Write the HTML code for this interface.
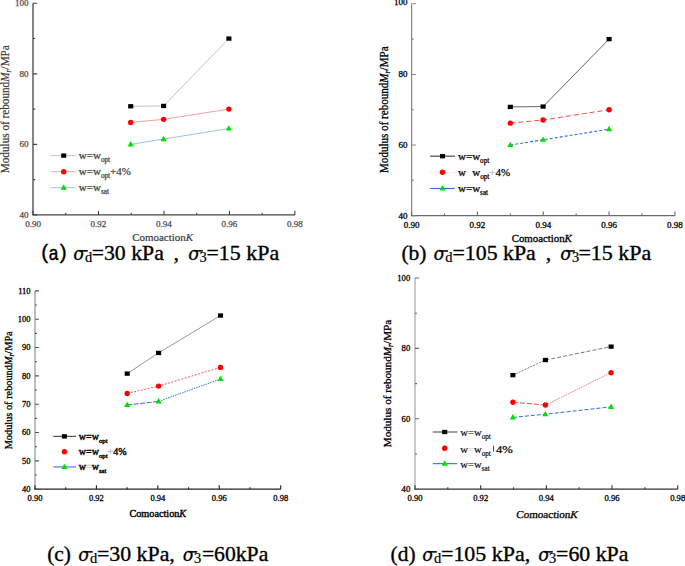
<!DOCTYPE html><html><head><meta charset="utf-8"><style>html,body{margin:0;padding:0;background:#fff;}svg{display:block}</style></head><body>
<svg width="685" height="566" viewBox="0 0 685 566">
<rect width="685" height="566" fill="#fff"/>
<path d="M33 3.3V214.9" fill="none" stroke="#444" stroke-width="1.3"/>
<path d="M32.35 214.9H294.9" fill="none" stroke="#444" stroke-width="1.3"/>
<path d="M33 214.9h4.2M33 179.63h2.2M33 144.37h4.2M33 109.1h2.2M33 73.83h4.2M33 38.57h2.2M33 3.3h4.2" fill="none" stroke="#444" stroke-width="1.1"/>
<path d="M33 214.9v-4.2M65.74 214.9v-2.2M98.48 214.9v-4.2M131.21 214.9v-2.2M163.95 214.9v-4.2M196.69 214.9v-2.2M229.42 214.9v-4.2M262.16 214.9v-2.2M294.9 214.9v-4.2" fill="none" stroke="#444" stroke-width="1.1"/>
<text x="28.4" y="217.87" font-family='"Liberation Serif", serif' font-size="9" fill="#4a4a4a" text-anchor="end" stroke="#4a4a4a" stroke-width="0.25">40</text>
<text x="28.4" y="147.34" font-family='"Liberation Serif", serif' font-size="9" fill="#4a4a4a" text-anchor="end" stroke="#4a4a4a" stroke-width="0.25">60</text>
<text x="28.4" y="76.8" font-family='"Liberation Serif", serif' font-size="9" fill="#4a4a4a" text-anchor="end" stroke="#4a4a4a" stroke-width="0.25">80</text>
<text x="28.4" y="6.27" font-family='"Liberation Serif", serif' font-size="9" fill="#4a4a4a" text-anchor="end" stroke="#4a4a4a" stroke-width="0.25">100</text>
<text x="33" y="227.17" font-family='"Liberation Serif", serif' font-size="9" fill="#4a4a4a" text-anchor="middle" stroke="#4a4a4a" stroke-width="0.25">0.90</text>
<text x="98.48" y="227.17" font-family='"Liberation Serif", serif' font-size="9" fill="#4a4a4a" text-anchor="middle" stroke="#4a4a4a" stroke-width="0.25">0.92</text>
<text x="163.95" y="227.17" font-family='"Liberation Serif", serif' font-size="9" fill="#4a4a4a" text-anchor="middle" stroke="#4a4a4a" stroke-width="0.25">0.94</text>
<text x="229.42" y="227.17" font-family='"Liberation Serif", serif' font-size="9" fill="#4a4a4a" text-anchor="middle" stroke="#4a4a4a" stroke-width="0.25">0.96</text>
<text x="294.9" y="227.17" font-family='"Liberation Serif", serif' font-size="9" fill="#4a4a4a" text-anchor="middle" stroke="#4a4a4a" stroke-width="0.25">0.98</text>
<path d="M130.7 106.28L163.6 105.93L228.9 38.57" fill="none" stroke="#c4c4c4" stroke-width="1"/>
<rect x="128.16" y="104.12" width="5.09" height="4.32" fill="#000"/>
<rect x="161.06" y="103.77" width="5.09" height="4.32" fill="#000"/>
<rect x="226.36" y="36.41" width="5.09" height="4.32" fill="#000"/>
<path d="M130.7 122.5L163.6 119.33L228.9 109.1" fill="none" stroke="#f5a0a0" stroke-width="1"/>
<circle cx="130.7" cy="122.5" r="2.7" fill="#ff0000"/>
<circle cx="163.6" cy="119.33" r="2.7" fill="#ff0000"/>
<circle cx="228.9" cy="109.1" r="2.7" fill="#ff0000"/>
<path d="M130.7 144.37L163.6 139.08L228.9 128.5" fill="none" stroke="#a0c0ee" stroke-width="1"/>
<path d="M130.7 141.02L133.8 146.42L127.6 146.42Z" fill="#00e000"/>
<path d="M163.6 135.73L166.7 141.13L160.5 141.13Z" fill="#00e000"/>
<path d="M228.9 125.15L232 130.55L225.8 130.55Z" fill="#00e000"/>
<path d="M50.8 155.6H75.7" stroke="#c4c4c4" stroke-width="1"/>
<rect x="61.16" y="153.44" width="5.09" height="4.32" fill="#000"/>
<path d="M50.8 171.7H75.7" stroke="#f5a0a0" stroke-width="1"/>
<circle cx="63.7" cy="171.7" r="2.7" fill="#ff0000"/>
<path d="M50.8 187.7H75.7" stroke="#a0c0ee" stroke-width="1"/>
<path d="M63.7 184.36L66.8 189.75L60.6 189.75Z" fill="#00e000"/>
<text x="78.8" y="159.2" font-family='"Liberation Serif", serif' font-size="11" fill="#444" font-weight="normal" stroke="#444" stroke-width="0.25"><tspan>w=w</tspan><tspan font-size="7.2" dy="3">opt</tspan></text>
<text x="78.8" y="175.0" font-family='"Liberation Serif", serif' font-size="11" fill="#444" font-weight="normal" stroke="#444" stroke-width="0.25"><tspan>w=w</tspan><tspan font-size="7.2" dy="3">opt</tspan><tspan dy="-3">+4%</tspan></text>
<text x="78.8" y="191.0" font-family='"Liberation Serif", serif' font-size="11" fill="#444" font-weight="normal" stroke="#444" stroke-width="0.25"><tspan>w=w</tspan><tspan font-size="7.2" dy="3">sat</tspan></text>
<path d="M411.6 3.8V215.7" fill="none" stroke="#858585" stroke-width="1.2"/>
<path d="M411 215.7H674.9" fill="none" stroke="#6a6a6a" stroke-width="1.2"/>
<path d="M411.6 215.7h4.2M411.6 180.38h2.2M411.6 145.07h4.2M411.6 109.75h2.2M411.6 74.43h4.2M411.6 39.12h2.2M411.6 3.8h4.2" fill="none" stroke="#858585" stroke-width="1.1"/>
<path d="M411.6 215.7v-4.2M444.51 215.7v-2.2M477.43 215.7v-4.2M510.34 215.7v-2.2M543.25 215.7v-4.2M576.16 215.7v-2.2M609.07 215.7v-4.2M641.99 215.7v-2.2M674.9 215.7v-4.2" fill="none" stroke="#6a6a6a" stroke-width="1.1"/>
<text x="407.4" y="218.67" font-family='"Liberation Serif", serif' font-size="9" fill="#000" text-anchor="end" stroke="#000" stroke-width="0.3">40</text>
<text x="407.4" y="148.04" font-family='"Liberation Serif", serif' font-size="9" fill="#000" text-anchor="end" stroke="#000" stroke-width="0.3">60</text>
<text x="407.4" y="77.4" font-family='"Liberation Serif", serif' font-size="9" fill="#000" text-anchor="end" stroke="#000" stroke-width="0.3">80</text>
<text x="407.4" y="5.37" font-family='"Liberation Serif", serif' font-size="9" fill="#000" text-anchor="end" stroke="#000" stroke-width="0.3">100</text>
<text x="411.6" y="228.07" font-family='"Liberation Serif", serif' font-size="9" fill="#000" text-anchor="middle" stroke="#000" stroke-width="0.3">0.90</text>
<text x="477.43" y="228.07" font-family='"Liberation Serif", serif' font-size="9" fill="#000" text-anchor="middle" stroke="#000" stroke-width="0.3">0.92</text>
<text x="543.25" y="228.07" font-family='"Liberation Serif", serif' font-size="9" fill="#000" text-anchor="middle" stroke="#000" stroke-width="0.3">0.94</text>
<text x="609.07" y="228.07" font-family='"Liberation Serif", serif' font-size="9" fill="#000" text-anchor="middle" stroke="#000" stroke-width="0.3">0.96</text>
<text x="674.9" y="228.07" font-family='"Liberation Serif", serif' font-size="9" fill="#000" text-anchor="middle" stroke="#000" stroke-width="0.3">0.98</text>
<path d="M510.3 106.92L543.1 106.57L609.1 39.12" fill="none" stroke="#404040" stroke-width="0.8"/>
<rect x="507.76" y="104.76" width="5.09" height="4.32" fill="#000"/>
<rect x="540.56" y="104.41" width="5.09" height="4.32" fill="#000"/>
<rect x="606.56" y="36.96" width="5.09" height="4.32" fill="#000"/>
<path d="M510.3 123.17L543.1 119.99L609.1 109.75" fill="none" stroke="#ff3030" stroke-width="0.9" stroke-dasharray="5 3"/>
<circle cx="510.3" cy="123.17" r="2.7" fill="#ff0000"/>
<circle cx="543.1" cy="119.99" r="2.7" fill="#ff0000"/>
<circle cx="609.1" cy="109.75" r="2.7" fill="#ff0000"/>
<path d="M510.3 145.07L543.1 139.77L609.1 129.17" fill="none" stroke="#3070e0" stroke-width="1.1" stroke-dasharray="3 2"/>
<path d="M510.3 141.72L513.4 147.12L507.2 147.12Z" fill="#00e000"/>
<path d="M543.1 136.42L546.2 141.82L540 141.82Z" fill="#00e000"/>
<path d="M609.1 125.83L612.2 131.22L606 131.22Z" fill="#00e000"/>
<path d="M430.1 156.2H454.9" stroke="#555" stroke-width="1.3"/>
<rect x="439.96" y="154.04" width="5.09" height="4.32" fill="#000"/>
<path d="M430.1 172.3H454.9" stroke="#ffe8e8" stroke-width="1"/>
<circle cx="442.5" cy="172.3" r="2.7" fill="#ff0000"/>
<path d="M430.1 188.4H454.9" stroke="#2060e0" stroke-width="1"/>
<path d="M442.5 185.06L445.6 190.45L439.4 190.45Z" fill="#00e000"/>
<text x="458.0" y="160.3" font-family='"Liberation Serif", serif' font-size="11" fill="#000" font-weight="normal" stroke="#000" stroke-width="0.25"><tspan>w=w</tspan><tspan font-size="7.2" dy="3">opt</tspan></text>
<text x="458.0" y="175.8" font-family='"Liberation Serif", serif' font-size="11" fill="#000" font-weight="normal" stroke="#000" stroke-width="0.25"><tspan>w</tspan><tspan fill="#fff" stroke="#fff">=</tspan><tspan>w</tspan><tspan font-size="7.2" dy="3">opt</tspan><tspan dy="-3" fill="#bbb" stroke="#bbb">+</tspan><tspan>4%</tspan></text>
<text x="458.0" y="191.8" font-family='"Liberation Serif", serif' font-size="11" fill="#000" font-weight="normal" stroke="#000" stroke-width="0.25"><tspan>w=w</tspan><tspan font-size="7.2" dy="3">sat</tspan></text>
<path d="M35 290.9V489.2" fill="none" stroke="#9a9a9a" stroke-width="1.3"/>
<path d="M34.35 489.2H280.7" fill="none" stroke="#222" stroke-width="1.3"/>
<path d="M35 489.2h4M35 475.04h2M35 460.87h4M35 446.71h2M35 432.54h4M35 418.38h2M35 404.21h4M35 390.05h2M35 375.89h4M35 361.72h2M35 347.56h4M35 333.39h2M35 319.23h4M35 305.06h2M35 290.9h4" fill="none" stroke="#555" stroke-width="1.1"/>
<path d="M35 489.2v-4M65.71 489.2v-2M96.43 489.2v-4M127.14 489.2v-2M157.85 489.2v-4M188.56 489.2v-2M219.27 489.2v-4M249.99 489.2v-2M280.7 489.2v-4" fill="none" stroke="#222" stroke-width="1.1"/>
<text x="30.6" y="492" font-family='"Liberation Serif", serif' font-size="8.5" fill="#000" text-anchor="end" stroke="#000" stroke-width="0.3">40</text>
<text x="30.6" y="463.68" font-family='"Liberation Serif", serif' font-size="8.5" fill="#000" text-anchor="end" stroke="#000" stroke-width="0.3">50</text>
<text x="30.6" y="435.35" font-family='"Liberation Serif", serif' font-size="8.5" fill="#000" text-anchor="end" stroke="#000" stroke-width="0.3">60</text>
<text x="30.6" y="407.02" font-family='"Liberation Serif", serif' font-size="8.5" fill="#000" text-anchor="end" stroke="#000" stroke-width="0.3">70</text>
<text x="30.6" y="378.69" font-family='"Liberation Serif", serif' font-size="8.5" fill="#000" text-anchor="end" stroke="#000" stroke-width="0.3">80</text>
<text x="30.6" y="350.36" font-family='"Liberation Serif", serif' font-size="8.5" fill="#000" text-anchor="end" stroke="#000" stroke-width="0.3">90</text>
<text x="30.6" y="322.03" font-family='"Liberation Serif", serif' font-size="8.5" fill="#000" text-anchor="end" stroke="#000" stroke-width="0.3">100</text>
<text x="30.6" y="293.7" font-family='"Liberation Serif", serif' font-size="8.5" fill="#000" text-anchor="end" stroke="#000" stroke-width="0.3">110</text>
<text x="35" y="500.61" font-family='"Liberation Serif", serif' font-size="8.5" fill="#000" text-anchor="middle" stroke="#000" stroke-width="0.3">0.90</text>
<text x="96.43" y="500.61" font-family='"Liberation Serif", serif' font-size="8.5" fill="#000" text-anchor="middle" stroke="#000" stroke-width="0.3">0.92</text>
<text x="157.85" y="500.61" font-family='"Liberation Serif", serif' font-size="8.5" fill="#000" text-anchor="middle" stroke="#000" stroke-width="0.3">0.94</text>
<text x="219.27" y="500.61" font-family='"Liberation Serif", serif' font-size="8.5" fill="#000" text-anchor="middle" stroke="#000" stroke-width="0.3">0.96</text>
<text x="280.7" y="500.61" font-family='"Liberation Serif", serif' font-size="8.5" fill="#000" text-anchor="middle" stroke="#000" stroke-width="0.3">0.98</text>
<path d="M127.2 373.62L158.6 352.94L220.5 315.55" fill="none" stroke="#808080" stroke-width="0.8"/>
<rect x="124.66" y="371.46" width="5.09" height="4.32" fill="#000"/>
<rect x="156.06" y="350.78" width="5.09" height="4.32" fill="#000"/>
<rect x="217.96" y="313.39" width="5.09" height="4.32" fill="#000"/>
<path d="M127.2 393.45L158.6 386.08L220.5 367.39" fill="none" stroke="#ff4040" stroke-width="0.9" stroke-dasharray="2 1.5"/>
<circle cx="127.2" cy="393.45" r="2.7" fill="#ff0000"/>
<circle cx="158.6" cy="386.08" r="2.7" fill="#ff0000"/>
<circle cx="220.5" cy="367.39" r="2.7" fill="#ff0000"/>
<path d="M127.2 405.06L158.6 401.38" fill="none" stroke="#3070e0" stroke-width="1.0" stroke-dasharray="5 1.5"/>
<path d="M158.6 401.38L220.5 379" fill="none" stroke="#3070e0" stroke-width="1.0" stroke-dasharray="1.5 1"/>
<path d="M127.2 401.72L130.3 407.11L124.1 407.11Z" fill="#00e000"/>
<path d="M158.6 398.04L161.7 403.43L155.5 403.43Z" fill="#00e000"/>
<path d="M220.5 375.66L223.6 381.05L217.4 381.05Z" fill="#00e000"/>
<path d="M53.2 436.4H76" stroke="#505050" stroke-width="1.2"/>
<rect x="61.86" y="434.24" width="5.09" height="4.32" fill="#000"/>
<circle cx="64.4" cy="451.7" r="2.7" fill="#ff0000"/>
<path d="M53.2 466.9H76" stroke="#80a6ec" stroke-width="1.7"/>
<path d="M64.4 463.56L67.5 468.95L61.3 468.95Z" fill="#00e000"/>
<text x="78.8" y="439.8" font-family='"Liberation Serif", serif' font-size="10" fill="#000" font-weight="normal" stroke="#000" stroke-width="0.4"><tspan>w=w</tspan><tspan font-size="6.8" dy="3">opt</tspan></text>
<text x="78.8" y="454.6" font-family='"Liberation Serif", serif' font-size="10" fill="#000" font-weight="normal" stroke="#000" stroke-width="0.4"><tspan>w=w</tspan><tspan font-size="6.8" dy="3">opt</tspan><tspan dy="-3" fill="#bbb" stroke="#bbb">+</tspan><tspan>4%</tspan></text>
<text x="78.8" y="469.8" font-family='"Liberation Serif", serif' font-size="10" fill="#000" font-weight="normal" stroke="#000" stroke-width="0.4"><tspan>w</tspan><tspan fill="#ccc" stroke="#ccc">=</tspan><tspan>w</tspan><tspan font-size="6.8" dy="3">sat</tspan></text>
<path d="M415 278V489.2" fill="none" stroke="#a5a5a5" stroke-width="1.2"/>
<path d="M414.4 489.2H677.7" fill="none" stroke="#333" stroke-width="1.2"/>
<path d="M415 489.2h4M415 454h2M415 418.8h4M415 383.6h2M415 348.4h4M415 313.2h2M415 278h4" fill="none" stroke="#666" stroke-width="1.1"/>
<path d="M415 489.2v-4M447.84 489.2v-2M480.68 489.2v-4M513.51 489.2v-2M546.35 489.2v-4M579.19 489.2v-2M612.02 489.2v-4M644.86 489.2v-2M677.7 489.2v-4" fill="none" stroke="#333" stroke-width="1.1"/>
<text x="410.2" y="492.04" font-family='"Liberation Serif", serif' font-size="8.6" fill="#000" text-anchor="end" stroke="#000" stroke-width="0.3">40</text>
<text x="410.2" y="421.64" font-family='"Liberation Serif", serif' font-size="8.6" fill="#000" text-anchor="end" stroke="#000" stroke-width="0.3">60</text>
<text x="410.2" y="351.24" font-family='"Liberation Serif", serif' font-size="8.6" fill="#000" text-anchor="end" stroke="#000" stroke-width="0.3">80</text>
<text x="410.2" y="280.84" font-family='"Liberation Serif", serif' font-size="8.6" fill="#000" text-anchor="end" stroke="#000" stroke-width="0.3">100</text>
<text x="415" y="500.74" font-family='"Liberation Serif", serif' font-size="8.6" fill="#000" text-anchor="middle" stroke="#000" stroke-width="0.3">0.90</text>
<text x="480.68" y="500.74" font-family='"Liberation Serif", serif' font-size="8.6" fill="#000" text-anchor="middle" stroke="#000" stroke-width="0.3">0.92</text>
<text x="546.35" y="500.74" font-family='"Liberation Serif", serif' font-size="8.6" fill="#000" text-anchor="middle" stroke="#000" stroke-width="0.3">0.94</text>
<text x="612.02" y="500.74" font-family='"Liberation Serif", serif' font-size="8.6" fill="#000" text-anchor="middle" stroke="#000" stroke-width="0.3">0.96</text>
<text x="677.7" y="500.74" font-family='"Liberation Serif", serif' font-size="8.6" fill="#000" text-anchor="middle" stroke="#000" stroke-width="0.3">0.98</text>
<path d="M512.9 375.15L545.4 360.02" fill="none" stroke="#404040" stroke-width="0.7" stroke-dasharray="2 1.2"/>
<path d="M545.4 360.02L611.1 346.64" fill="none" stroke="#404040" stroke-width="0.7" stroke-dasharray="4 2"/>
<rect x="510.36" y="372.99" width="5.09" height="4.32" fill="#000"/>
<rect x="542.86" y="357.86" width="5.09" height="4.32" fill="#000"/>
<rect x="608.56" y="344.48" width="5.09" height="4.32" fill="#000"/>
<path d="M512.9 402.26L545.4 405.07" fill="none" stroke="#ff3030" stroke-width="0.9" stroke-dasharray="5 2"/>
<path d="M545.4 405.07L611.1 372.69" fill="none" stroke="#ff5050" stroke-width="0.8" stroke-dasharray="1.5 1"/>
<circle cx="512.9" cy="402.26" r="2.7" fill="#ff0000"/>
<circle cx="545.4" cy="405.07" r="2.7" fill="#ff0000"/>
<circle cx="611.1" cy="372.69" r="2.7" fill="#ff0000"/>
<path d="M512.9 417.39L545.4 414.22L611.1 406.83" fill="none" stroke="#3070e0" stroke-width="1.0" stroke-dasharray="4 2"/>
<path d="M512.9 414.05L516 419.44L509.8 419.44Z" fill="#00e000"/>
<path d="M545.4 410.88L548.5 416.27L542.3 416.27Z" fill="#00e000"/>
<path d="M611.1 403.49L614.2 408.88L608 408.88Z" fill="#00e000"/>
<path d="M432.8 432H457.3" stroke="#404040" stroke-width="1"/>
<rect x="442.16" y="429.84" width="5.09" height="4.32" fill="#000"/>
<circle cx="444.7" cy="448.2" r="2.7" fill="#ff0000"/>
<path d="M432.8 463.7H457.3" stroke="#2060e0" stroke-width="1"/>
<path d="M444.7 460.36L447.8 465.75L441.6 465.75Z" fill="#00e000"/>
<text x="460.2" y="435.8" font-family='"Liberation Serif", serif' font-size="10.7" fill="#000" font-weight="normal" stroke="#000" stroke-width="0.15"><tspan>w=w</tspan><tspan font-size="7.2" dy="3">opt</tspan></text>
<text x="460.2" y="452.5" font-family='"Liberation Serif", serif' font-size="10.7" fill="#000" font-weight="normal" stroke="#000" stroke-width="0.15"><tspan>w</tspan><tspan fill="#ccc" stroke="#ccc">=</tspan><tspan>w</tspan><tspan font-size="7.2" dy="3">opt</tspan></text>
<rect x="493.2" y="445.6" width="0.9" height="6.2" fill="#333"/>
<text x="496.0" y="452.5" font-family='"Liberation Serif", serif' font-size="10.7" fill="#000" stroke="#000" stroke-width="0.25" textLength="16.8" lengthAdjust="spacingAndGlyphs">4%</text>
<text x="460.2" y="467.8" font-family='"Liberation Serif", serif' font-size="10.7" fill="#000" font-weight="normal" stroke="#000" stroke-width="0.15"><tspan>w=w</tspan><tspan font-size="7.2" dy="3">sat</tspan></text>
<text transform="translate(9.2 109.2) rotate(-90)" text-anchor="middle" font-family='"Liberation Serif", serif' font-size="11.5" fill="#3a3a3a" font-weight="normal" stroke="#3a3a3a" stroke-width="0.2" textLength="128" lengthAdjust="spacingAndGlyphs">Modulus of rebound<tspan font-style="italic">M</tspan><tspan font-style="italic" font-size="8.0" dy="2">r</tspan><tspan dy="-2">/MPa</tspan></text>
<text transform="translate(388.2 109.7) rotate(-90)" text-anchor="middle" font-family='"Liberation Serif", serif' font-size="12" fill="#000" font-weight="normal" stroke="#000" stroke-width="0.3" textLength="126.6" lengthAdjust="spacingAndGlyphs">Modulus of rebound<tspan font-style="italic">M</tspan><tspan font-style="italic" font-size="8.4" dy="2">r</tspan><tspan dy="-2">/MPa</tspan></text>
<text transform="translate(12.2 390.3) rotate(-90)" text-anchor="middle" font-family='"Liberation Serif", serif' font-size="11" fill="#000" font-weight="normal" stroke="#000" stroke-width="0.3" textLength="118" lengthAdjust="spacingAndGlyphs">Modulus of rebound<tspan font-style="italic">M</tspan><tspan font-style="italic" font-size="7.7" dy="2">r</tspan><tspan dy="-2">/MPa</tspan></text>
<text transform="translate(390.9 383.5) rotate(-90)" text-anchor="middle" font-family='"Liberation Serif", serif' font-size="10.8" fill="#000" font-weight="normal" stroke="#000" stroke-width="0.3" textLength="127.5" lengthAdjust="spacingAndGlyphs">Modulus of rebound<tspan font-style="italic">M</tspan><tspan font-style="italic" font-size="7.6" dy="2">r</tspan><tspan dy="-2">/MPa</tspan></text>
<text x="132.3" y="241.4" font-family='"Liberation Serif", serif' font-size="11" fill="#3a3a3a" stroke="#3a3a3a" stroke-width="0.2" textLength="60.7" lengthAdjust="spacingAndGlyphs">Comoaction<tspan font-style="italic">K</tspan></text>
<text x="511.7" y="241.9" font-family='"Liberation Serif", serif' font-size="10.5" fill="#000" stroke="#000" stroke-width="0.3" textLength="60.1" lengthAdjust="spacingAndGlyphs">Comoaction<tspan font-style="italic">K</tspan></text>
<text x="129.4" y="516.8" font-family='"Liberation Serif", serif' font-size="10" fill="#000" stroke="#000" stroke-width="0.4" textLength="56.8" lengthAdjust="spacingAndGlyphs">Comoaction<tspan font-style="italic">K</tspan></text>
<g transform="translate(516.0 517.7) skewX(-6)"><text x="0" y="0" font-family='"Liberation Serif", serif' font-size="10.5" fill="#000" stroke="#000" stroke-width="0.3" textLength="61.5" lengthAdjust="spacingAndGlyphs">Comoaction<tspan font-style="italic">K</tspan></text></g>
<text x="41.3" y="259.4" font-family='"Liberation Sans", sans-serif' font-size="20.7" fill="#000" stroke="#000" stroke-width="0.35">(</text>
<text x="59.8" y="259.4" font-family='"Liberation Sans", sans-serif' font-size="20.7" fill="#000" stroke="#000" stroke-width="0.35">)</text>
<g transform="translate(48.8 260.0) scale(0.86 1)"><text x="0" y="0" font-family='"Liberation Sans", sans-serif' font-size="20" fill="#000" stroke="#000" stroke-width="0.45">a</text></g>
<text x="73.6" y="260.0" font-family='"Liberation Serif", serif' font-size="20.2" fill="#000" font-style="italic" stroke="#000" stroke-width="0.35">o</text>
<rect x="78.80" y="250.10" width="9.0" height="1.55" fill="#000"/>
<text x="85.0" y="262.0" font-family='"Liberation Serif", serif' font-size="14.5" fill="#000" stroke="#000" stroke-width="0.21">d</text>
<text x="91.7" y="260.0" font-family='"Liberation Serif", serif' font-size="21.7" fill="#000" stroke="#000" stroke-width="0.35" textLength="72.2" lengthAdjust="spacingAndGlyphs">=30 kPa</text>
<text x="173.6" y="260.0" font-family='"Liberation Serif", serif' font-size="21.7" fill="#000" stroke="#000" stroke-width="0.35">,</text>
<text x="188.6" y="260.0" font-family='"Liberation Serif", serif' font-size="20.2" fill="#000" font-style="italic" stroke="#000" stroke-width="0.35">o</text>
<rect x="193.80" y="250.10" width="9.0" height="1.55" fill="#000"/>
<text x="199.5" y="262.0" font-family='"Liberation Serif", serif' font-size="14.5" fill="#000" stroke="#000" stroke-width="0.21">3</text>
<text x="206.5" y="260.0" font-family='"Liberation Serif", serif' font-size="21.7" fill="#000" stroke="#000" stroke-width="0.35" textLength="72.7" lengthAdjust="spacingAndGlyphs">=15 kPa</text>
<text x="401.4" y="260.1" font-family='"Liberation Serif", serif' font-size="21.7" fill="#000" stroke="#000" stroke-width="0.35" textLength="25.1" lengthAdjust="spacingAndGlyphs">(b)</text>
<text x="433.8" y="260.1" font-family='"Liberation Serif", serif' font-size="20.2" fill="#000" font-style="italic" stroke="#000" stroke-width="0.35">o</text>
<rect x="439.00" y="250.20" width="9.0" height="1.55" fill="#000"/>
<text x="445.3" y="262.1" font-family='"Liberation Serif", serif' font-size="14.5" fill="#000" stroke="#000" stroke-width="0.21">d</text>
<text x="452.5" y="260.1" font-family='"Liberation Serif", serif' font-size="21.7" fill="#000" stroke="#000" stroke-width="0.35" textLength="83.3" lengthAdjust="spacingAndGlyphs">=105 kPa</text>
<text x="545.8" y="260.1" font-family='"Liberation Serif", serif' font-size="21.7" fill="#000" stroke="#000" stroke-width="0.35">,</text>
<text x="560.6" y="260.1" font-family='"Liberation Serif", serif' font-size="20.2" fill="#000" font-style="italic" stroke="#000" stroke-width="0.35">o</text>
<rect x="565.80" y="250.20" width="9.0" height="1.55" fill="#000"/>
<text x="571.9" y="262.1" font-family='"Liberation Serif", serif' font-size="14.5" fill="#000" stroke="#000" stroke-width="0.21">3</text>
<text x="578.4" y="260.1" font-family='"Liberation Serif", serif' font-size="21.7" fill="#000" stroke="#000" stroke-width="0.35" textLength="72.9" lengthAdjust="spacingAndGlyphs">=15 kPa</text>
<text x="47.2" y="561.0" font-family='"Liberation Serif", serif' font-size="21.7" fill="#000" stroke="#000" stroke-width="0.35" textLength="23.8" lengthAdjust="spacingAndGlyphs">(c)</text>
<text x="78.5" y="561.0" font-family='"Liberation Serif", serif' font-size="20.2" fill="#000" font-style="italic" stroke="#000" stroke-width="0.35">o</text>
<rect x="83.70" y="551.10" width="9.0" height="1.55" fill="#000"/>
<text x="90.0" y="563.0" font-family='"Liberation Serif", serif' font-size="14.5" fill="#000" stroke="#000" stroke-width="0.21">d</text>
<text x="97.0" y="561.0" font-family='"Liberation Serif", serif' font-size="21.7" fill="#000" stroke="#000" stroke-width="0.35" textLength="77.8" lengthAdjust="spacingAndGlyphs">=30 kPa,</text>
<text x="183.0" y="561.0" font-family='"Liberation Serif", serif' font-size="20.2" fill="#000" font-style="italic" stroke="#000" stroke-width="0.35">o</text>
<rect x="188.20" y="551.10" width="9.0" height="1.55" fill="#000"/>
<text x="193.9" y="563.0" font-family='"Liberation Serif", serif' font-size="14.5" fill="#000" stroke="#000" stroke-width="0.21">3</text>
<text x="201.9" y="561.0" font-family='"Liberation Serif", serif' font-size="21.7" fill="#000" stroke="#000" stroke-width="0.35" textLength="66.4" lengthAdjust="spacingAndGlyphs">=60kPa</text>
<text x="390.6" y="561.0" font-family='"Liberation Serif", serif' font-size="21.7" fill="#000" stroke="#000" stroke-width="0.35" textLength="25.0" lengthAdjust="spacingAndGlyphs">(d)</text>
<text x="422.6" y="561.0" font-family='"Liberation Serif", serif' font-size="20.2" fill="#000" font-style="italic" stroke="#000" stroke-width="0.35">o</text>
<rect x="427.80" y="551.10" width="9.0" height="1.55" fill="#000"/>
<text x="434.1" y="563.0" font-family='"Liberation Serif", serif' font-size="14.5" fill="#000" stroke="#000" stroke-width="0.21">d</text>
<text x="441.0" y="561.0" font-family='"Liberation Serif", serif' font-size="21.7" fill="#000" stroke="#000" stroke-width="0.35" textLength="89.2" lengthAdjust="spacingAndGlyphs">=105 kPa,</text>
<text x="538.6" y="561.0" font-family='"Liberation Serif", serif' font-size="20.2" fill="#000" font-style="italic" stroke="#000" stroke-width="0.35">o</text>
<rect x="543.80" y="551.10" width="9.0" height="1.55" fill="#000"/>
<text x="549.1" y="563.0" font-family='"Liberation Serif", serif' font-size="14.5" fill="#000" stroke="#000" stroke-width="0.21">3</text>
<text x="556.1" y="561.0" font-family='"Liberation Serif", serif' font-size="21.7" fill="#000" stroke="#000" stroke-width="0.35" textLength="72.3" lengthAdjust="spacingAndGlyphs">=60 kPa</text>
</svg></body></html>
